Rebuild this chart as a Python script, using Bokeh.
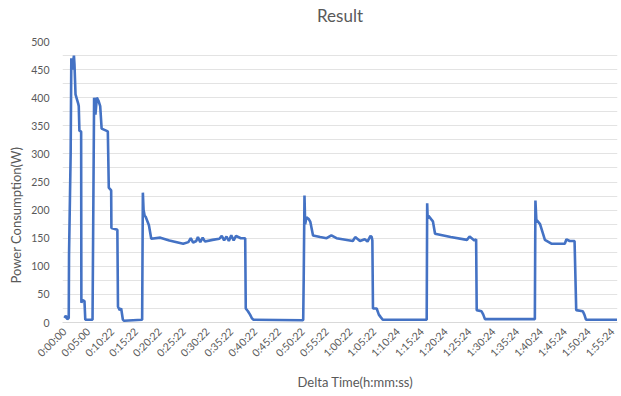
import math
from bokeh.plotting import figure
from bokeh.models import FixedTicker, Range1d, ColumnDataSource, Title
from bokeh.embed import file_html
from bokeh.resources import INLINE

# --- data (minutes from start, power in W) ---
time_min = [0.0, 0.3, 0.6, 0.9, 0.96, 1.3, 1.44, 1.6, 1.99, 2.1, 2.32, 2.87, 3.0, 3.14, 3.5, 3.55,
            3.8, 4.2, 4.37, 5.89, 6.22, 6.5, 6.8, 7.12, 7.5, 7.8, 9.1, 9.3, 9.8, 9.85, 11.1, 11.23,
            11.6, 11.9, 12.26, 12.5, 16.3, 16.45, 16.6, 16.83, 17.04, 17.5, 17.72, 18.21, 20.12,
            22.0, 24.91, 26.0, 26.5, 27.0, 27.65, 28.0, 28.5, 29.0, 29.5, 31.06, 32.5, 33.0, 33.5,
            34.0, 34.49, 35.0, 35.5, 36.0, 37.0, 37.92, 38.04, 38.5, 38.94, 39.3, 39.62, 50.0,
            50.09, 50.2, 50.36, 50.5, 50.77, 51.26, 51.59, 52.15, 53.64, 55.0, 56.0, 57.07, 60.5,
            61.0, 62.0, 63.0, 63.58, 64.2, 64.46, 64.6, 64.73, 65.5, 65.96, 66.31, 66.78, 76.0,
            76.1, 76.2, 76.37, 76.92, 77.3, 77.75, 81.03, 84.44, 85.0, 86.0, 86.37, 86.49, 87.5,
            87.87, 88.22, 98.69, 98.81, 99.0, 99.78, 100.8, 102.24, 104.97, 105.32, 106.0, 107.02,
            107.37, 108.75, 109.08, 109.42, 115.93]
power_w = [8, 12, 6, 8, 120, 300, 470, 450, 475, 460, 406, 390, 385, 341, 340, 35,
           40, 38, 5, 5, 400, 370, 400, 395, 385, 345, 340, 240, 235, 168, 165, 28,
           22, 25, 5, 3, 5, 231, 200, 190, 188, 178, 173, 149, 151,
           146, 140, 143, 150, 142, 145, 152, 143, 151, 144, 147, 149, 154, 146,
           153, 145, 155, 146, 154, 150, 150, 25, 20, 14, 8, 5, 4,
           5, 82, 226, 175, 187, 184, 179, 155, 152, 150, 155, 150, 145,
           152, 145, 148, 144, 154, 152, 146, 25, 25, 14, 10, 5, 5,
           212, 185, 190, 184, 180, 158, 152, 147, 153, 146, 148, 22, 20,
           14, 6, 6, 217, 183, 175, 147, 140, 140, 148, 145, 145,
           22, 20, 14, 5, 5]

tick_pos = [0, 5, 10, 15, 20, 25, 30, 35, 40, 45, 50, 55, 60, 65, 70, 75, 80, 85, 90, 95,
            100, 105, 110, 115]
tick_labels = ["0:00:00", "0:05:00", "0:10:22", "0:15:22", "0:20:22", "0:25:22", "0:30:22",
               "0:35:22", "0:40:22", "0:45:22", "0:50:22", "0:55:22", "1:00:22", "1:05:22",
               "1:10:24", "1:15:24", "1:20:24", "1:25:24", "1:30:24", "1:35:24", "1:40:24",
               "1:45:24", "1:50:24", "1:55:24"]
y_ticks = [0, 50, 100, 150, 200, 250, 300, 350, 400, 450, 500]
y_minor = [25, 75, 125, 175, 225, 275, 325, 375, 425, 475]

FONT = "Lato"
GREY = "#595959"

src = ColumnDataSource(data=dict(t=time_min, p=power_w))

p = figure(width=618, height=394, output_backend="svg", toolbar_location=None,
           x_range=Range1d(-0.41, 116.03), y_range=Range1d(0, 500),
           min_border_left=50, min_border_right=1, min_border_top=41, min_border_bottom=70)
p.outline_line_color = None
p.background_fill_color = "white"
p.border_fill_color = "white"

# small spacer between the frame and the title
p.add_layout(Title(text=" ", text_font_size="12px", standoff=0), "above")

p.title.text = "Result"
p.title.align = "center"
p.title.offset = 3
p.title.standoff = 0
p.title.text_font = FONT
p.title.text_font_size = "17px"
p.title.text_font_style = "normal"
p.title.text_color = GREY

p.line("t", "p", source=src, line_color="#4472C4", line_width=2.6)

# x axis
xa = p.xaxis[0]
xa.ticker = FixedTicker(ticks=tick_pos)
xa.major_label_overrides = {t: l for t, l in zip(tick_pos, tick_labels)}
xa.major_label_orientation = math.pi / 4
xa.major_label_text_font = FONT
xa.major_label_text_font_size = "10.5px"
xa.major_label_text_color = GREY
xa.major_tick_line_color = None
xa.minor_tick_line_color = None
xa.axis_line_color = "#D9D9D9"
xa.major_label_standoff = 1

p.add_layout(Title(text="Delta Time(h:mm:ss)", align="left", offset=235,
                   text_font=FONT, text_font_size="13px", text_font_style="normal",
                   text_color=GREY), "below")

# y axis
ya = p.yaxis[0]
ya.ticker = FixedTicker(ticks=y_ticks, minor_ticks=y_minor)
ya.major_label_text_font = FONT
ya.major_label_text_font_size = "10.5px"
ya.major_label_text_color = GREY
ya.major_tick_line_color = None
ya.minor_tick_line_color = None
ya.axis_line_color = None
ya.major_label_standoff = 7

p.add_layout(Title(text="Power Consumption(W)", align="left", offset=39,
                   text_font=FONT, text_font_size="13px", text_font_style="normal",
                   text_color=GREY), "left")

p.xgrid.grid_line_color = None
p.ygrid.grid_line_color = "#E3E3E3"
p.ygrid.minor_grid_line_color = "#E3E3E3"

open("out.html", "w").write(file_html(p, INLINE))
